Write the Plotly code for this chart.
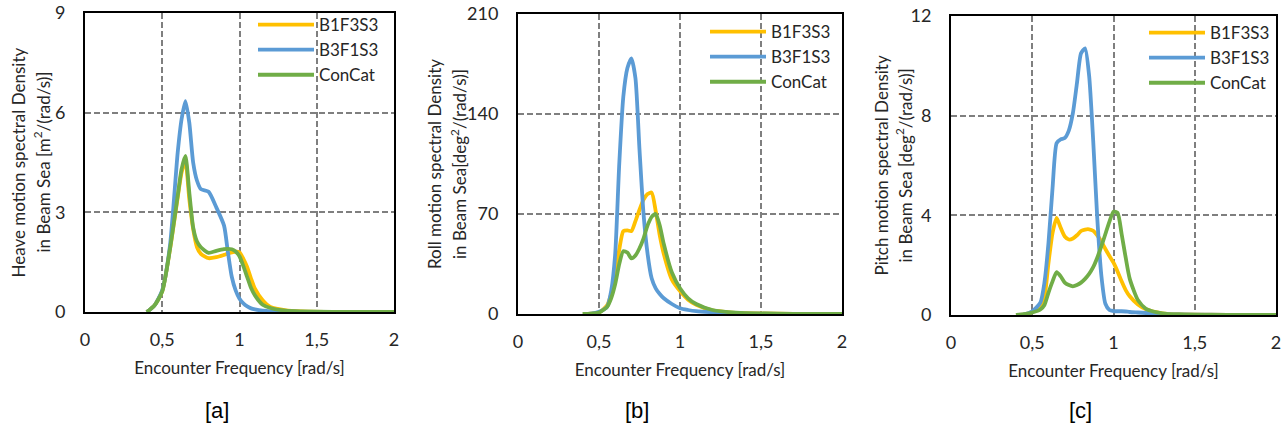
import plotly.graph_objects as go

series_names = ["B1F3S3", "B3F1S3", "ConCat"]
series_colors = ["#FFC000", "#5B9BD5", "#70AD47"]

x_tickvals = [0, 0.5, 1, 1.5, 2]
x_ticktext = ["0", "0,5", "1", "1,5", "2"]

# Panel a: heave
freq_a = [0.4, 0.45, 0.5, 0.55, 0.6, 0.625, 0.65, 0.675, 0.7, 0.725, 0.75, 0.8, 0.85, 0.9,
          0.925, 0.95, 0.975, 1.0, 1.025, 1.05, 1.075, 1.1, 1.15, 1.2, 1.3, 1.4, 1.6, 1.8, 2.0]
heave_b1f3s3 = [0, 0.2, 0.62, 1.88, 3.45, 4.2, 4.55, 3.4, 2.5, 1.95, 1.75, 1.62, 1.65, 1.72,
                1.76, 1.79, 1.82, 1.8, 1.6, 1.35, 1.0, 0.7, 0.35, 0.15, 0.05, 0.02, 0.005, 0, 0]
heave_b3f1s3 = [0, 0.2, 0.66, 2.0, 4.8, 5.8, 6.35, 5.7, 4.5, 3.95, 3.7, 3.62, 3.15, 2.6,
                1.8, 1.06, 0.65, 0.4, 0.26, 0.17, 0.11, 0.08, 0.04, 0.02, 0.01, 0.005, 0, 0, 0]
heave_concat = [0, 0.2, 0.62, 1.9, 3.5, 4.3, 4.7, 3.6, 2.55, 2.12, 1.95, 1.78, 1.84, 1.89,
                1.9, 1.89, 1.82, 1.68, 1.38, 1.05, 0.72, 0.5, 0.22, 0.12, 0.04, 0.02, 0.005, 0, 0]

# Panel b: roll
freq_b = [0.4, 0.45, 0.5, 0.55, 0.575, 0.6, 0.625, 0.65, 0.675, 0.7, 0.725, 0.75, 0.775, 0.8,
          0.825, 0.85, 0.875, 0.9, 0.95, 1.0, 1.05, 1.1, 1.2, 1.3, 1.4, 1.6, 1.8, 2.0]
roll_b1f3s3 = [0, 0.2, 1, 6, 14, 26, 45, 58, 58.5, 58, 65, 73, 80, 84,
               85, 72, 55, 42, 24, 16, 10, 6.5, 2.5, 1.2, 0.6, 0.2, 0.1, 0]
roll_b3f1s3 = [0, 0.2, 1.5, 5, 16, 42, 105, 152, 172, 179, 165, 115, 70, 42,
               25, 18, 14, 11, 7, 4, 2.8, 2, 1.2, 0.6, 0.3, 0.1, 0.05, 0]
roll_concat = [0, 0.2, 1, 5, 11, 21, 35, 44, 43, 39, 41, 46, 53, 62,
               68, 70, 62, 49, 29, 18, 11, 7, 2.8, 1.3, 0.6, 0.2, 0.1, 0]

# Panel c: pitch
freq_c = [0.4, 0.45, 0.5, 0.55, 0.575, 0.6, 0.625, 0.65, 0.675, 0.7, 0.725, 0.75, 0.775, 0.8,
          0.825, 0.85, 0.875, 0.9, 0.925, 0.95, 0.975, 1.0, 1.025, 1.05, 1.075, 1.1, 1.15,
          1.2, 1.3, 1.4, 1.6, 1.8, 2.0]
pitch_b1f3s3 = [0, 0.03, 0.12, 0.3, 0.7, 2.1, 3.3, 3.9, 3.5, 3.15, 3.03, 3.07, 3.2, 3.37,
                3.43, 3.44, 3.38, 3.2, 2.95, 2.65, 2.37, 2.1, 1.75, 1.35, 1.0, 0.75, 0.42,
                0.23, 0.07, 0.03, 0.01, 0, 0]
pitch_b3f1s3 = [0, 0.03, 0.15, 0.5, 1.3, 2.9, 5.1, 6.9, 7.05, 7.1, 7.4, 8.1, 9.3, 10.5,
                10.7, 9.6, 7.0, 3.9, 1.6, 0.45, 0.2, 0.16, 0.15, 0.15, 0.14, 0.12, 0.1,
                0.08, 0.04, 0.02, 0.01, 0, 0]
pitch_concat = [0, 0.03, 0.1, 0.22, 0.4, 0.9, 1.35, 1.72, 1.55, 1.3, 1.2, 1.15, 1.2, 1.3,
                1.45, 1.65, 1.92, 2.3, 2.75, 3.25, 3.75, 4.15, 4.1, 3.25, 2.3, 1.45, 0.6,
                0.25, 0.07, 0.02, 0.005, 0, 0]

panels = [
    dict(freq=freq_a, data=[heave_b1f3s3, heave_b3f1s3, heave_concat],
         ytickvals=[0, 3, 6, 9], yrange=[0, 9],
         ytitle=["Heave motion spectral Density",
                 "in Beam Sea [m<sup>2</sup>/(rad/s)]"],
         label="[a]"),
    dict(freq=freq_b, data=[roll_b1f3s3, roll_b3f1s3, roll_concat],
         ytickvals=[0, 70, 140, 210], yrange=[0, 210],
         ytitle=["Roll motion spectral Density",
                 "in Beam Sea[deg<sup>2</sup>/(rad/s)]"],
         label="[b]"),
    dict(freq=freq_c, data=[pitch_b1f3s3, pitch_b3f1s3, pitch_concat],
         ytickvals=[0, 4, 8, 12], yrange=[0, 12],
         ytitle=["Pitch motion spectral Density",
                 "in Beam Sea [deg<sup>2</sup>/(rad/s)]"],
         label="[c]"),
]

W, H = 1287, 430
# pixel geometry of plot areas (left, right, top, bottom)
boxes = [(85, 394, 13, 312), (518, 842, 14, 314), (951, 1276, 16, 315)]
ytitle_x = [(18, 42), (434, 458), (881, 904)]
label_x = [217, 637, 1080]
legend_pos = [(253, 7), (705, 14), (1144, 15)]

FONT = "Lato, Carlito, Calibri, sans-serif"
fig = go.Figure()
layout = dict(width=W, height=H, margin=dict(l=0, r=0, t=0, b=0, autoexpand=False),
              paper_bgcolor="white", plot_bgcolor="white",
              font=dict(family=FONT, size=17, color="#262626"),
              annotations=[])

for i, p in enumerate(panels):
    n = "" if i == 0 else str(i + 1)
    leg = "legend" if i == 0 else "legend" + str(i + 1)
    for name, color, vals in zip(series_names, series_colors, p["data"]):
        fig.add_trace(go.Scatter(
            x=p["freq"], y=vals, name=name, mode="lines",
            line=dict(color=color, width=3.8, shape="spline", smoothing=0.6),
            xaxis="x" + n, yaxis="y" + n, legend=leg,
            showlegend=True, hoverinfo="skip"))
    l, r, t, b = boxes[i]
    axis_common = dict(showline=True, mirror=True, linecolor="black", linewidth=2,
                       showgrid=True, gridcolor="#7f7f7f", gridwidth=1.5, griddash="6px,3px",
                       zeroline=False, ticks="", fixedrange=True, automargin=False,
                       tickfont=dict(family=FONT, size=18, color="#262626"))
    layout["xaxis" + n] = dict(axis_common, domain=[l / W, r / W], range=[0, 2],
                               tickvals=x_tickvals, ticktext=x_ticktext,
                               anchor="y" + n, ticklabelstandoff=10,
                               title=dict(text="Encounter Frequency [rad/s]",
                                          font=dict(family=FONT, size=17, color="#262626"),
                                          standoff=14))
    layout["yaxis" + n] = dict(axis_common, domain=[1 - b / H, 1 - t / H], range=p["yrange"],
                               tickvals=p["ytickvals"], anchor="x" + n, ticklabelstandoff=14)
    layout[leg] = dict(x=legend_pos[i][0] / W, y=1 - legend_pos[i][1] / H,
                       xanchor="left", yanchor="top", bgcolor="rgba(0,0,0,0)",
                       font=dict(family=FONT, size=17, color="#262626"),
                       itemwidth=56, traceorder="normal")
    for line_text, lx in zip(p["ytitle"], ytitle_x[i]):
        layout["annotations"].append(dict(
            text=line_text, textangle=-90, x=lx / W, y=1 - (t + b) / 2 / H,
            xref="paper", yref="paper", xanchor="center", yanchor="middle", showarrow=False,
            font=dict(family=FONT, size=17, color="#262626")))
    layout["annotations"].append(dict(
        text=p["label"], x=label_x[i] / W, y=1 - 410 / H, xref="paper", yref="paper",
        xanchor="center", yanchor="middle", showarrow=False,
        font=dict(family="Liberation Sans, Arial, sans-serif", size=22, color="black")))

fig.update_layout(**layout)
fig.write_html("out.html")
